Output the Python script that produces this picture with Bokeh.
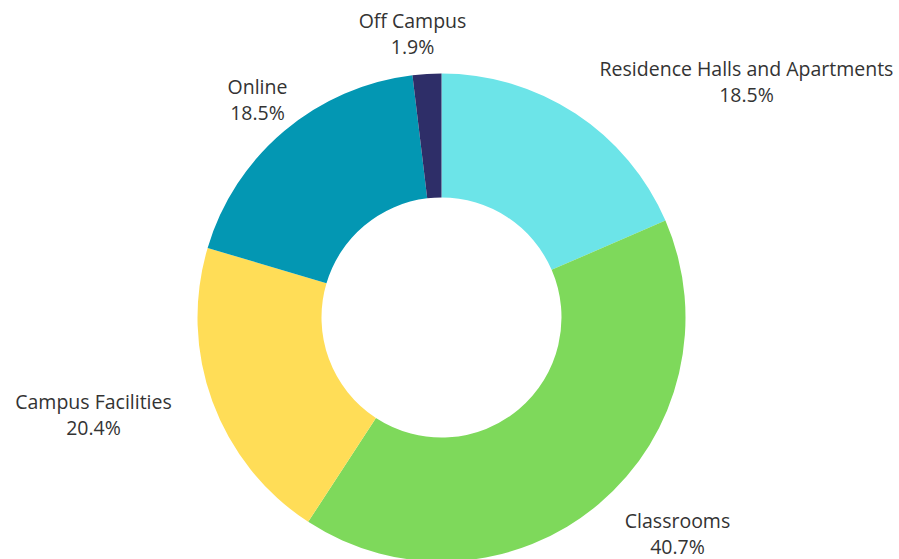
import math
from bokeh.plotting import figure
from bokeh.models import Range1d, ColumnDataSource
from bokeh.core.properties import value
from bokeh.embed import file_html
from bokeh.resources import INLINE

categories = ["Residence Halls and Apartments", "Classrooms", "Campus Facilities", "Online", "Off Campus"]
shares = [18.5, 40.7, 20.4, 18.5, 1.9]
colors = ["#6CE4E8", "#7ED95B", "#FFDD57", "#0397B3", "#2E2E68"]

# label layout (pixel positions, top-left origin)
label_pos = [(746, 68), (677, 520), (93, 401), (257, 86), (412, 20)]

W, H = 899, 559
cx, cy = 441, H - 317
r_out, r_in = 244, 120

total = sum(shares)
starts, ends = [], []
acc = 0.0
for s in shares:
    starts.append(math.pi / 2 - 2 * math.pi * acc / total)
    acc += s
    ends.append(math.pi / 2 - 2 * math.pi * acc / total)

src = ColumnDataSource(dict(start=starts, end=ends, color=colors, cat=categories))

p = figure(width=W, height=H, x_range=Range1d(0, W), y_range=Range1d(0, H),
           output_backend="svg", toolbar_location=None, min_border=0)
p.axis.visible = False
p.grid.visible = False
p.outline_line_color = None
p.background_fill_color = "white"

p.annular_wedge(x=cx, y=cy, inner_radius=r_in, outer_radius=r_out,
                start_angle="start", end_angle="end", direction="clock",
                color="color", line_color=None, source=src)

lx = [q[0] for q in label_pos]
ly1 = [H - q[1] for q in label_pos]
ly2 = [H - q[1] - 26 for q in label_pos]
pct = [f"{s:.1f}%" for s in shares]

common = dict(text_align="center", text_baseline="middle", text_font=value("Open Sans"),
              text_font_size="19.5px", text_color="#333333")
p.text(x=lx, y=ly1, text=categories, **common)
p.text(x=lx, y=ly2, text=pct, **common)

open("out.html", "w").write(file_html(p, INLINE))
